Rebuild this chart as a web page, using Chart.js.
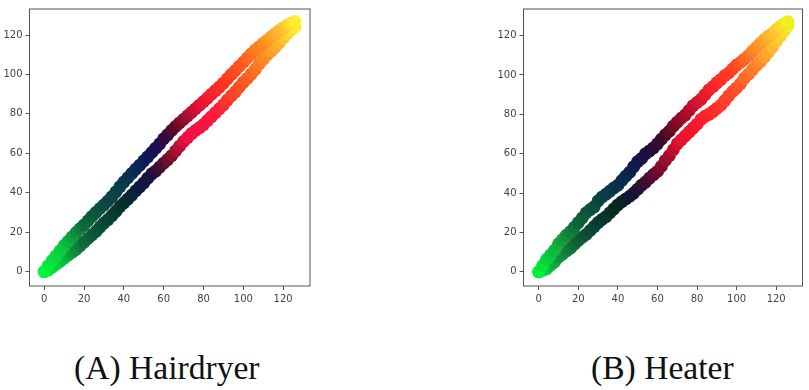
<!DOCTYPE html>
<html>
<head>
<meta charset="utf-8">
<script src="https://cdn.jsdelivr.net/npm/chart.js@4"></script>
<style>
    body { margin: 0; background: #fff; width: 809px; height: 390px; overflow: hidden; position: relative; }
    .plot { position: absolute; width: 330px; height: 310px; filter: blur(0.5px); }
    .caption { position: absolute; font-family: "Liberation Serif", serif; font-size: 33.6px; color: #111; white-space: nowrap; }
</style>
</head>
<body>
<div class="plot" style="left:0;top:0"><canvas id="chartA" width="330" height="310"></canvas></div>
<div class="plot" style="left:479px;top:0"><canvas id="chartB" width="330" height="310"></canvas></div>
<div class="caption" style="left:74px;top:349px">(A) Hairdryer</div>
<div class="caption" style="left:591px;top:349px">(B) Heater</div>
<script>
// Shared x positions, read every 2 units along the diagonal
const xValues = [0, 2, 4, 6, 8, 10, 12, 14, 16, 18, 20, 22, 24, 26, 28, 30, 32, 34, 36, 38, 40, 42, 44, 46, 48, 50, 52, 54, 56, 58, 60, 62, 64, 66, 68, 70, 72, 74, 76, 78, 80, 82, 84, 86, 88, 90, 92, 94, 96, 98, 100, 102, 104, 106, 108, 110, 112, 114, 116, 118, 120, 122, 124, 126];
const tickValues = [0, 20, 40, 60, 80, 100, 120];

const hairdryerUpper = [0, 3, 5.6, 8, 10.6, 13.2, 15.4, 17.6, 19.8, 21.8, 23.6, 25.8, 28, 30, 32, 33.8, 35.8, 38, 40.4, 43, 45.4, 47.6, 49.8, 52, 54, 56.2, 58.2, 60.4, 62.6, 64.8, 67.4, 69.4, 71.6, 73.6, 75.4, 77.2, 79, 80.8, 82.6, 84.4, 86.2, 88, 90, 91.8, 93.6, 95.6, 97.8, 100, 102, 104.2, 106.2, 108.4, 110.4, 112.4, 114, 115.8, 117.4, 119, 120.6, 122.2, 123.6, 125, 126, 126.8];
const hairdryerLower = [0, 0.8, 2.2, 3.8, 5.2, 6.8, 8.4, 9.8, 11.2, 13, 15, 16.8, 18.6, 20.4, 22.6, 24.6, 26.4, 28.4, 30.6, 33, 34.8, 36.8, 38.8, 41, 43, 45, 47.4, 49.6, 51, 53, 55, 56.8, 58.8, 61.2, 63.6, 66, 68, 70, 71.6, 73, 74.6, 76.6, 78.6, 80.6, 82.6, 84.6, 87, 89.2, 91.2, 93.6, 96, 98, 100.2, 102.6, 105.4, 107.6, 110, 111.8, 113.8, 116, 118.4, 120.6, 122.6, 124];
const heaterUpper = [0, 3.2, 6.4, 8.6, 11, 14.2, 16.4, 18.6, 20.4, 22.6, 25, 27.4, 30, 31.6, 33, 36, 38, 39.4, 41, 42.6, 44, 46.4, 48.6, 50.6, 53.4, 56, 57.6, 60, 61.4, 63, 65, 67.4, 69.6, 71.4, 74, 76, 78, 79.6, 82, 84.4, 86, 87.6, 90, 92.4, 94, 96, 97.6, 99.6, 101, 103, 105, 106.4, 108, 109.8, 112, 114, 116, 118, 119.6, 121, 122.8, 124.6, 126, 127];
const heaterLower = [0, 0.8, 1.6, 3.4, 5, 7.4, 9, 10.6, 12, 14, 16, 17.6, 19, 21, 23, 25, 26.6, 28, 30, 32, 34, 35.6, 37, 38.4, 40, 42, 44, 45.6, 47.6, 49.4, 51, 53.6, 56.6, 59, 62, 65, 67, 69, 71, 73, 75, 77.4, 79, 80, 81.4, 83, 84.6, 87, 89.4, 91.6, 93.4, 95.6, 98.4, 100.4, 102.6, 104.8, 106.8, 109, 111.4, 114, 117, 119.6, 122.5, 125];

// Colour ramps along x, one for each branch
const rampUpperA = [[0, [0, 245, 60]], [10, [10, 200, 60]], [20, [15, 106, 58]], [30, [11, 74, 63]], [40, [10, 58, 80]], [50, [10, 31, 85]], [57, [26, 12, 80]], [62, [53, 10, 64]], [66, [96, 10, 32]], [72, [160, 16, 48]], [78, [224, 16, 58]], [90, [255, 48, 32]], [100, [255, 90, 32]], [110, [255, 138, 32]], [120, [255, 192, 48]], [126, [255, 238, 48]]];
const rampLowerA = [[0, [0, 245, 60]], [10, [10, 190, 60]], [20, [15, 106, 58]], [30, [10, 74, 58]], [40, [6, 48, 42]], [48, [12, 26, 64]], [55, [32, 15, 64]], [60, [80, 15, 40]], [66, [160, 16, 48]], [72, [240, 16, 64]], [85, [255, 21, 64]], [95, [255, 64, 37]], [105, [255, 106, 32]], [115, [255, 160, 40]], [126, [255, 238, 48]]];
const rampUpperB = [[0, [0, 240, 60]], [10, [20, 170, 60]], [20, [15, 100, 56]], [30, [10, 70, 62]], [40, [10, 50, 76]], [48, [14, 28, 80]], [56, [30, 12, 60]], [64, [70, 10, 40]], [70, [130, 12, 36]], [80, [210, 16, 48]], [90, [255, 40, 40]], [100, [255, 70, 32]], [110, [255, 140, 40]], [120, [255, 200, 48]], [126, [240, 240, 30]]];
const rampLowerB = [[0, [0, 240, 60]], [10, [20, 150, 60]], [20, [15, 96, 56]], [30, [8, 60, 52]], [40, [8, 40, 30]], [48, [20, 20, 56]], [56, [70, 12, 50]], [64, [150, 12, 44]], [72, [230, 16, 48]], [85, [255, 32, 40]], [100, [255, 80, 40]], [110, [255, 130, 40]], [120, [255, 196, 48]], [126, [240, 240, 30]]];

function rampColor(ramp, x) {
    for (let i = 1; i < ramp.length; i++) {
        if (x <= ramp[i][0]) {
            const t = (x - ramp[i - 1][0]) / (ramp[i][0] - ramp[i - 1][0]);
            const c = ramp[i - 1][1].map((v, k) => Math.round(v + (ramp[i][1][k] - v) * t));
            return 'rgb(' + c.join(',') + ')';
        }
    }
    return 'rgb(' + ramp[ramp.length - 1][1].join(',') + ')';
}

function branch(values, ramp) {
    return {
        data: xValues.map((x, i) => ({ x: x, y: values[i] })),
        pointRadius: 6.5,
        pointBorderWidth: 0,
        pointBackgroundColor: ctx => rampColor(ramp, ctx.raw ? ctx.raw.x : 0),
        showLine: false
    };
}

// Box around the plot area, all four sides
const frame = {
    id: 'frame',
    afterDraw(chart) {
        const a = chart.chartArea;
        chart.ctx.save();
        chart.ctx.strokeStyle = '#555';
        chart.ctx.lineWidth = 1;
        chart.ctx.strokeRect(a.left, a.top, a.right - a.left, a.bottom - a.top);
        chart.ctx.restore();
    }
};

function axis(min, max, fit) {
    return {
        type: 'linear',
        min: min,
        max: max,
        afterBuildTicks: scale => { scale.ticks = tickValues.map(v => ({ value: v })); },
        afterFit: fit,
        border: { display: false },
        grid: { drawOnChartArea: false, drawTicks: true, tickLength: 4, color: '#555' },
        ticks: { color: '#444', font: { family: 'DejaVu Sans', size: 10 }, padding: 3, maxRotation: 0, includeBounds: false }
    };
}

function makeChart(id, upper, lower, rampUpper, rampLower, xr, yr, left, top, right) {
    return new Chart(document.getElementById(id), {
        type: 'scatter',
        data: { datasets: [branch(upper, rampUpper), branch(lower, rampLower)] },
        plugins: [frame],
        options: {
            responsive: false,
            animation: false,
            layout: { padding: { top: top, right: right, left: 0, bottom: 0 } },
            plugins: { legend: { display: false }, tooltip: { enabled: false } },
            scales: {
                x: axis(xr[0], xr[1], s => { s.height = 24; }),
                y: axis(yr[0], yr[1], s => { s.width = left; })
            }
        }
    });
}

makeChart('chartA', hairdryerUpper, hairdryerLower, rampUpperA, rampLowerA, [-7.4, 133.5], [-7.3, 133.2], 29.5, 3, 20);
makeChart('chartB', heaterUpper, heaterLower, rampUpperB, rampLowerB, [-7.7, 133.3], [-7.2, 133.5], 44.5, 5, 5);
</script>
</body>
</html>
